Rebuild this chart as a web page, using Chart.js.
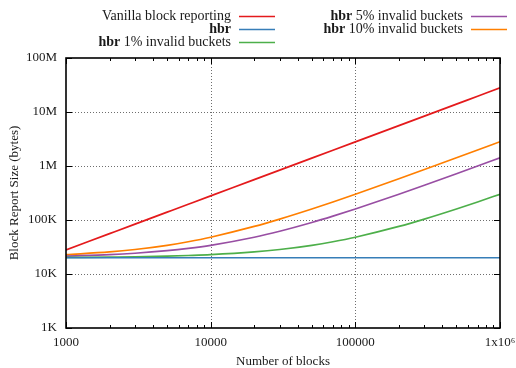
<!DOCTYPE html>
<html>
<head>
<meta charset="utf-8">
<script src="https://cdn.jsdelivr.net/npm/chart.js@4.4.0/dist/chart.umd.min.js"></script>
<style>
  html, body { margin: 0; padding: 0; background: #fff; }
  #wrap { width: 516px; height: 368px; }
</style>
</head>
<body>
<div id="wrap"><canvas id="c" width="516" height="368"></canvas></div>
<script>
// Number of blocks (x) and block report size in bytes (y) for each scheme
const blocks      = [1000, 2000, 3000, 5000, 7000, 10000, 20000, 30000, 50000, 70000, 100000, 200000, 300000, 500000, 700000, 1000000];
const vanillaBytes = [28000, 56000, 84000, 140000, 196000, 280000, 560000, 840000, 1400000, 1960000, 2800000, 5600000, 8400000, 14000000, 19600000, 28000000];
const hbrBytes     = [20000, 20000, 20000, 20000, 20000, 20000, 20000, 20000, 20000, 20000, 20000, 20000, 20000, 20000, 20000, 20000];
const hbr1Bytes    = [20300, 20600, 20800, 21400, 22000, 22800, 25600, 28400, 34000, 39600, 48000, 76000, 104000, 160000, 216000, 300000];
const hbr5Bytes    = [21400, 22800, 24200, 27000, 29800, 34000, 48000, 62000, 90000, 118000, 160000, 300000, 440000, 720000, 1000000, 1420000];
const hbr10Bytes   = [22800, 25600, 28400, 34000, 39600, 48000, 76000, 104000, 160000, 216000, 300000, 580000, 860000, 1420000, 1980000, 2820000];

const seriesNames  = ['Vanilla block reporting', 'hbr', 'hbr 1% invalid buckets', 'hbr 5% invalid buckets', 'hbr 10% invalid buckets'];
const seriesColors = ['#e41a1c', '#377eb8', '#4daf4a', '#984ea3', '#ff7f00'];

// Axis ticks
const xTicks = [1000, 10000, 100000, 1000000];
const xTickLabels = ['1000', '10000', '100000', '1x10\u2076'];
const yTicks = [1000, 10000, 100000, 1000000, 10000000, 100000000];
const yTickLabels = ['1K', '10K', '100K', '1M', '10M', '100M'];
const minorSteps = [2, 3, 4, 5, 6, 7, 8, 9];

const FONT = "'Liberation Serif', 'Times New Roman', serif";

const pts = ys => blocks.map((b, i) => ({ x: b, y: ys[i] }));
const seriesValues = [vanillaBytes, hbrBytes, hbr1Bytes, hbr5Bytes, hbr10Bytes];

// Dotted grid under the curves, border frame with inward ticks over them
const framePlugin = {
  id: 'frame',
  beforeDatasetsDraw(chart) {
    const { ctx, chartArea: a, scales: { x, y } } = chart;
    ctx.save();
    ctx.strokeStyle = '#6e6e6e';
    ctx.lineWidth = 1;
    ctx.setLineDash([1, 2]);
    ctx.beginPath();
    xTicks.slice(1, -1).forEach(v => {
      const px = Math.round(x.getPixelForValue(v)) + 0.5;
      ctx.moveTo(px, a.top); ctx.lineTo(px, a.bottom);
    });
    yTicks.slice(1, -1).forEach(v => {
      const py = Math.round(y.getPixelForValue(v)) + 0.5;
      ctx.moveTo(a.left, py); ctx.lineTo(a.right, py);
    });
    ctx.stroke();
    ctx.restore();
  },
  afterDatasetsDraw(chart) {
    const { ctx, chartArea: a, scales: { x, y } } = chart;
    ctx.save();
    ctx.strokeStyle = '#000';
    ctx.lineWidth = 1;
    ctx.beginPath();
    const xTick = (v, len) => {
      const px = Math.round(x.getPixelForValue(v)) + 0.5;
      ctx.moveTo(px, a.bottom); ctx.lineTo(px, a.bottom - len);
      ctx.moveTo(px, a.top); ctx.lineTo(px, a.top + len);
    };
    xTicks.forEach((v, i) => {
      xTick(v, 6);
      if (i < xTicks.length - 1) minorSteps.forEach(m => xTick(v * m, 3));
    });
    yTicks.forEach(v => {
      const py = Math.round(y.getPixelForValue(v)) + 0.5;
      ctx.moveTo(a.left, py); ctx.lineTo(a.left + 6, py);
      ctx.moveTo(a.right, py); ctx.lineTo(a.right - 6, py);
    });
    ctx.stroke();
    ctx.lineWidth = 1.6;
    ctx.strokeRect(a.left, a.top, a.right - a.left, a.bottom - a.top);
    ctx.restore();
  }
};

// Two-column key above the plot, text right-aligned before the line sample
const keyPlugin = {
  id: 'key',
  afterDraw(chart) {
    const ctx = chart.ctx;
    const cols = [
      { textRight: 231, x0: 239, x1: 275 },
      { textRight: 463, x0: 471, x1: 507 }
    ];
    const rowY = [16, 29, 42];
    ctx.save();
    ctx.textBaseline = 'middle';
    ctx.textAlign = 'right';
    ctx.fillStyle = '#1a1a1a';
    chart.data.datasets.forEach((ds, i) => {
      const col = i < 3 ? cols[0] : cols[1];
      const y = rowY[i < 3 ? i : i - 3];
      let bold = '', rest = ds.label;
      if (rest.startsWith('hbr')) { bold = 'hbr'; rest = rest.slice(3); }
      ctx.font = '14px ' + FONT;
      const restW = rest ? ctx.measureText(rest).width : 0;
      if (rest) ctx.fillText(rest, col.textRight, y);
      if (bold) {
        ctx.font = 'bold 14px ' + FONT;
        ctx.fillText(bold, col.textRight - restW, y);
      }
      ctx.strokeStyle = ds.borderColor;
      ctx.lineWidth = 1.6;
      ctx.beginPath();
      ctx.moveTo(col.x0, y + 0.5);
      ctx.lineTo(col.x1, y + 0.5);
      ctx.stroke();
    });
    ctx.restore();
  }
};

new Chart(document.getElementById('c'), {
  type: 'line',
  data: {
    datasets: seriesNames.map((name, i) => ({
      label: name,
      data: pts(seriesValues[i]),
      borderColor: seriesColors[i],
      backgroundColor: seriesColors[i],
      borderWidth: 1.7,
      pointRadius: 0,
      cubicInterpolationMode: 'monotone',
      fill: false
    }))
  },
  options: {
    responsive: false,
    animation: false,
    devicePixelRatio: 1,
    layout: { padding: { top: 58, right: 16, bottom: 0, left: 0 } },
    plugins: { legend: { display: false }, tooltip: { enabled: false } },
    scales: {
      x: {
        type: 'logarithmic',
        min: 1000,
        max: 1000000,
        grid: { display: false, drawTicks: false },
        border: { display: false },
        afterBuildTicks: s => { s.ticks = xTicks.map(v => ({ value: v })); },
        afterFit: s => { s.height = 40; s.paddingLeft = 0; s.paddingRight = 0; },
        ticks: {
          autoSkip: false, maxRotation: 0, padding: 7, color: '#1a1a1a',
          font: { family: FONT, size: 13 },
          callback: (v, i) => xTickLabels[i]
        },
        title: {
          display: true, text: 'Number of blocks', color: '#1a1a1a',
          font: { family: FONT, size: 13 }, padding: { top: 0, bottom: -1 }
        }
      },
      y: {
        type: 'logarithmic',
        min: 1000,
        max: 100000000,
        grid: { display: false, drawTicks: false },
        border: { display: false },
        afterBuildTicks: s => { s.ticks = yTicks.map(v => ({ value: v })); },
        afterFit: s => { s.width = 66; s.paddingTop = 0; s.paddingBottom = 0; },
        ticks: {
          autoSkip: false, padding: 9, color: '#1a1a1a',
          font: { family: FONT, size: 13 },
          callback: (v, i) => yTickLabels[i]
        },
        title: {
          display: true, text: 'Block Report Size (bytes)', color: '#1a1a1a',
          font: { family: FONT, size: 13 }, padding: { top: 7, bottom: 0 }
        }
      }
    }
  },
  plugins: [framePlugin, keyPlugin]
});
</script>
</body>
</html>
